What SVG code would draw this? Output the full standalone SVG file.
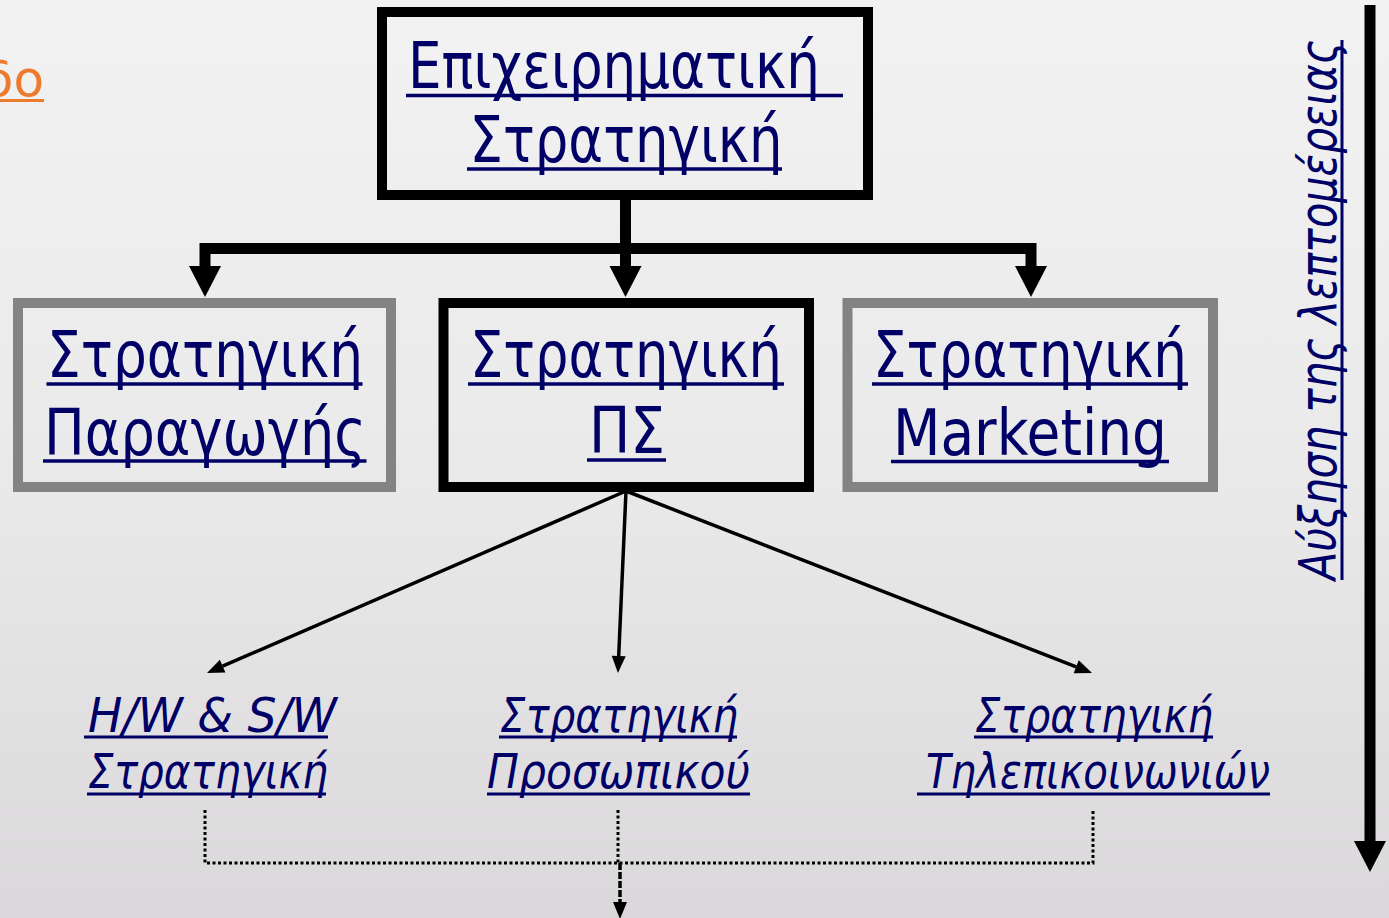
<svg xmlns="http://www.w3.org/2000/svg" width="1389" height="918" viewBox="0 0 1389 918">
<defs>
<linearGradient id="bg" x1="0" y1="0" x2="0" y2="1">
<stop offset="0" stop-color="#f3f2f3"/>
<stop offset="0.5" stop-color="#ebeaeb"/>
<stop offset="1" stop-color="#dad8da"/>
</linearGradient>
<marker id="bigArrow" markerUnits="userSpaceOnUse" markerWidth="40" markerHeight="40" refX="0" refY="0" orient="auto-start-reverse" overflow="visible">
<path d="M0,-16 L31,0 L0,16 Z" fill="#000"/>
</marker>
<marker id="smallArrow" markerUnits="userSpaceOnUse" markerWidth="20" markerHeight="20" refX="0" refY="0" orient="auto" overflow="visible">
<path d="M0,-7 L17,0 L0,7 Z" fill="#000"/>
</marker>
</defs>
<style>
.t{font-family:"DejaVu Sans","Verdana",sans-serif;fill:#000066;}
.big{font-size:64px;}
.it{font-size:48px;font-style:italic;}
.ul{fill:none;stroke:#000066;stroke-width:3.5;}
.uli{fill:none;stroke:#000066;stroke-width:3;}
.boxB{fill:none;stroke:#000;stroke-width:10;}
.boxG{fill:none;stroke:#838383;stroke-width:10;}
.thick{fill:none;stroke:#000;stroke-width:11;stroke-linejoin:miter;}
.thin{fill:none;stroke:#000;stroke-width:3.5;}
.dot{fill:none;stroke:#000;stroke-width:3;stroke-dasharray:3 2.5;}
</style>
<rect x="0" y="0" width="1389" height="918" fill="url(#bg)"/>

<g id="link-fragment">
<text class="t" x="44" y="96" text-anchor="end" font-size="50" style="fill:#EC7B2F">δο</text>
<path d="M0,100.5 H44" fill="none" stroke="#EC7B2F" stroke-width="3"/>
</g>

<g id="connectors">
<path class="thick" d="M625.5,200 V266" marker-end="url(#bigArrow)"/>
<path class="thick" d="M205,266 V248.5 H1031 V266" marker-start="url(#bigArrow)" marker-end="url(#bigArrow)"/>
<path class="thin" d="M626,491 L222.6,666.2" marker-end="url(#smallArrow)"/>
<path class="thin" d="M626,491 L618.7,656" marker-end="url(#smallArrow)"/>
<path class="thin" d="M626,491 L1076.2,666.8" marker-end="url(#smallArrow)"/>
<path class="dot" d="M205,810 V863 H1093 V810"/>
<path class="dot" d="M618,810 V863"/>
<path class="thin" d="M620,863 V902" stroke-dasharray="7 2" marker-end="url(#smallArrow)"/>
<path class="thick" d="M1370,5 V841" stroke-width="10" marker-end="url(#bigArrow)"/>
</g>

<g id="node-business">
<rect class="boxB" x="382" y="12" width="486" height="183"/>
<text class="t big" x="408" y="88" textLength="412" lengthAdjust="spacingAndGlyphs">Επιχειρηματική</text>
<path class="ul" d="M406,95.5 H843"/>
<text class="t big" x="626" y="162" text-anchor="middle" textLength="313" lengthAdjust="spacingAndGlyphs">Στρατηγική</text>
<path class="ul" d="M467,169 H782"/>
</g>

<g id="node-production">
<rect class="boxG" x="18" y="303" width="373" height="184"/>
<text class="t big" x="205" y="377" text-anchor="middle" textLength="316" lengthAdjust="spacingAndGlyphs">Στρατηγική</text>
<path class="ul" d="M46.5,384 H362.5"/>
<text class="t big" x="205" y="455" text-anchor="middle" textLength="322" lengthAdjust="spacingAndGlyphs">Παραγωγής</text>
<path class="ul" d="M43,461 H366.5"/>
</g>

<g id="node-is">
<rect class="boxB" x="443.5" y="303" width="365.5" height="184"/>
<text class="t big" x="626" y="377" text-anchor="middle" textLength="312" lengthAdjust="spacingAndGlyphs">Στρατηγική</text>
<path class="ul" d="M468,384 H784"/>
<text class="t big" x="627" y="453" text-anchor="middle" textLength="76" lengthAdjust="spacingAndGlyphs">ΠΣ</text>
<path class="ul" d="M587,460 H666"/>
</g>

<g id="node-marketing">
<rect class="boxG" x="847.5" y="303" width="365.5" height="184"/>
<text class="t big" x="1030" y="377" text-anchor="middle" textLength="314" lengthAdjust="spacingAndGlyphs">Στρατηγική</text>
<path class="ul" d="M872,384 H1188"/>
<text class="t big" x="1030" y="455" text-anchor="middle" textLength="274" lengthAdjust="spacingAndGlyphs">Marketing</text>
<path class="ul" d="M891,461.5 H1169"/>
</g>

<g id="node-hwsw">
<text class="t it" x="88" y="732" textLength="249" lengthAdjust="spacingAndGlyphs">H/W &amp; S/W</text>
<path class="uli" d="M84,737 H328"/>
<text class="t it" x="88" y="788" textLength="240" lengthAdjust="spacingAndGlyphs">Στρατηγική</text>
<path class="uli" d="M87,794 H326"/>
</g>

<g id="node-personnel">
<text class="t it" x="500" y="732" textLength="238" lengthAdjust="spacingAndGlyphs">Στρατηγική</text>
<path class="uli" d="M499,737 H737"/>
<text class="t it" x="487" y="788" textLength="263" lengthAdjust="spacingAndGlyphs">Προσωπικού</text>
<path class="uli" d="M487,794 H750"/>
</g>

<g id="node-telecom">
<text class="t it" x="975" y="732" textLength="238" lengthAdjust="spacingAndGlyphs">Στρατηγική</text>
<path class="uli" d="M974,737 H1213"/>
<text class="t it" x="926" y="788" textLength="344" lengthAdjust="spacingAndGlyphs">Τηλεπικοινωνιών</text>
<path class="uli" d="M917,794 H1270"/>
</g>

<g id="label-detail">
<text class="t" transform="translate(1336,580) rotate(-90)" x="0" y="0" font-size="52" font-style="italic" textLength="540" lengthAdjust="spacingAndGlyphs">Αύξηση της λεπτομέρειας</text>
<path class="uli" d="M1342,580 V40"/>
</g>
</svg>
